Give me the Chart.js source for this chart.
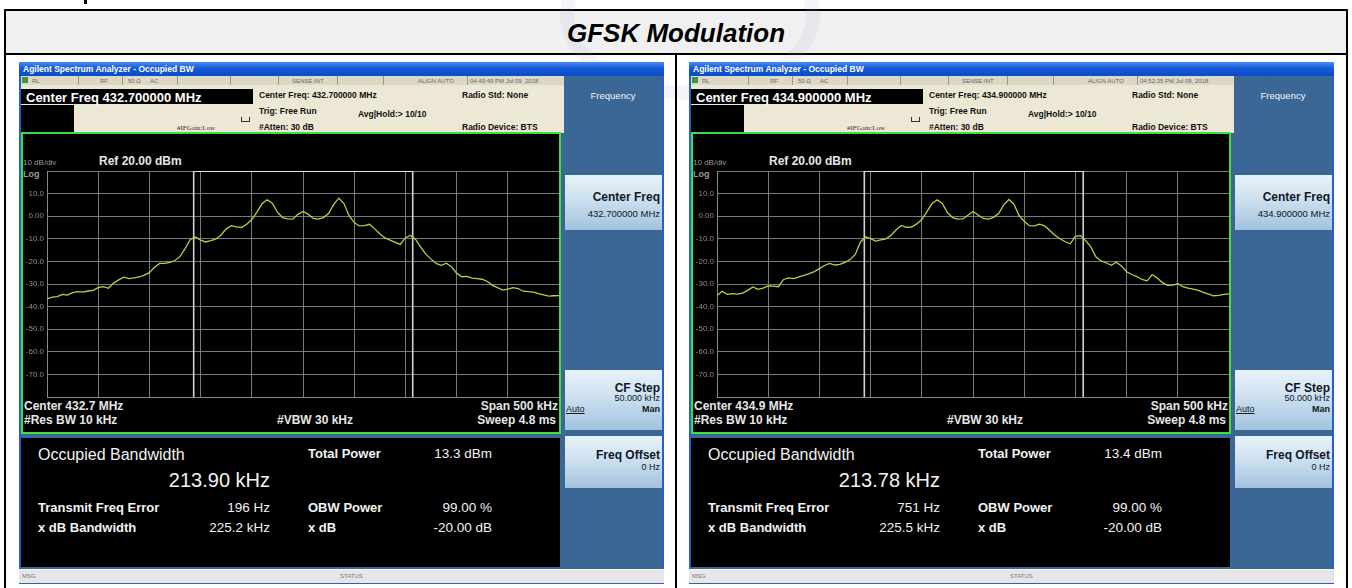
<!DOCTYPE html>
<html><head><meta charset="utf-8">
<script src="https://cdn.jsdelivr.net/npm/chart.js@4.4.1/dist/chart.umd.min.js"></script>
<style>
html,body{margin:0;padding:0;}
body{width:1352px;height:588px;background:#fff;position:relative;overflow:hidden;font-family:"Liberation Sans",Arial,sans-serif;}
.b{position:absolute;box-sizing:border-box;}
.t{position:absolute;white-space:nowrap;line-height:1;}
canvas{position:absolute;}
</style></head><body>
<script>
// ---------- DATA ----------
const freqOffsetKHz = [-250,-245,-240,-235,-230,-225,-220,-215,-210,-205,-200,-195,-190,-185,-180,-175,-170,-165,-160,-155,-150,-145,-140,-135,-130,-125,-120,-115,-110,-105,-100,-95,-90,-85,-80,-75,-70,-65,-60,-55,-50,-45,-40,-35,-30,-25,-20,-15,-10,-5,0,5,10,15,20,25,30,35,40,45,50,55,60,65,70,75,80,85,90,95,100,105,110,115,120,125,130,135,140,145,150,155,160,165,170,175,180,185,190,195,200,205,210,215,220,225,230,235,240,245,250];
const traceLeftDBm = [-36.6,-35.8,-35.6,-34.6,-34.9,-33.8,-33.4,-33.6,-33.1,-32.8,-31.6,-31.2,-31.9,-29.6,-28.2,-27.0,-27.6,-27.3,-26.9,-26.1,-25.0,-22.6,-20.9,-20.9,-20.4,-19.6,-17.8,-14.2,-10.3,-9.2,-10.6,-11.4,-10.8,-10.1,-8.3,-5.6,-4.2,-4.7,-5.0,-3.6,-1.5,1.8,5.5,7.3,5.8,1.8,-0.6,-1.2,-1.3,0.8,2.1,0.9,-1.0,-1.3,-0.6,1.2,5.2,8.0,5.6,0.2,-2.8,-4.3,-4.2,-3.6,-5.6,-7.8,-9.6,-10.6,-11.6,-12.5,-9.5,-8.5,-10.3,-13.8,-16.8,-19.0,-20.9,-21.7,-20.8,-22.4,-25.2,-26.8,-26.6,-27.4,-27.6,-27.9,-28.9,-30.6,-31.6,-32.7,-32.3,-31.6,-32.0,-33.2,-33.4,-33.6,-34.3,-34.8,-35.4,-35.2,-35.1];
const traceRightDBm = [-35.1,-33.2,-34.6,-34.3,-34.5,-34.0,-32.8,-31.3,-32.4,-31.8,-30.8,-30.9,-31.2,-28.0,-27.3,-27.6,-26.9,-26.2,-25.4,-24.5,-23.2,-21.8,-20.9,-21.6,-21.3,-20.4,-19.2,-16.9,-11.5,-9.1,-9.9,-11.0,-10.5,-10.0,-8.4,-6.0,-4.1,-4.9,-4.8,-3.4,-1.5,2.0,5.6,7.3,5.6,1.6,-0.6,-1.3,-1.2,0.4,2.1,0.5,-1.0,-1.3,-0.5,1.2,5.0,7.4,5.3,0.3,-2.2,-4.2,-4.3,-3.5,-4.3,-6.3,-8.4,-10.0,-11.3,-12.2,-8.9,-8.6,-10.8,-13.6,-18.0,-19.8,-20.6,-21.7,-20.4,-22.0,-24.6,-25.8,-26.7,-28.0,-28.6,-25.8,-27.4,-29.4,-30.6,-30.5,-29.9,-31.2,-31.8,-32.3,-32.8,-33.7,-34.5,-35.2,-35.0,-34.6,-34.4];
const yTickValues = [20,10,0,-10,-20,-30,-40,-50,-60,-70,-80];
const yTickLabels = ['','10.0','0.00','-10.0','-20.0','-30.0','-40.0','-50.0','-60.0','-70.0',''];
const obwKHz = [213.90, 213.78];
const freqErrorHz = [196, 751];
const centerMHz = ['432.700000', '434.900000'];
const centerShort = ['432.7', '434.9'];
const totalPower = ['13.3 dBm', '13.4 dBm'];
const xdBBandwidth = ['225.2 kHz', '225.5 kHz'];
const timestamps = ['04:49:49 PM Jul 09, 2018', '04:52:35 PM Jul 09, 2018'];

// ---------- HELPERS ----------
function box(x,y,w,h,bg,extra){const d=document.createElement('div');d.className='b';d.style.cssText=`left:${x}px;top:${y}px;width:${w}px;height:${h}px;background:${bg};${extra||''}`;document.body.appendChild(d);return d;}
function txt(x,y,s,css,al){const d=document.createElement('div');d.className='t';d.textContent=s;const tx=al==='r'?'-100%':al==='c'?'-50%':'0';d.style.cssText=`left:${x}px;top:${y}px;transform:translate(${tx},-50%);${css||''}`;document.body.appendChild(d);return d;}

// ---------- TABLE ----------
box(84,0,3,4,'#000');
box(4,9,1344,46,'#f0f0f0','border:2px solid #000;');
box(560,-70,260,170,'transparent','border:14px solid rgba(170,150,220,0.10);border-radius:50%;');
box(4,53,2,540,'#000');box(1346,53,2,540,'#000');box(675,53,2,540,'#000');
txt(676,33,'GFSK Modulation','font:italic bold 26px "Liberation Sans",Arial;color:#000;','c');

const BTN='linear-gradient(#e8f1f8 0%,#d4e5f2 35%,#b6d0e7 75%,#a2c2df 100%)';
function panel(dx, i, trace){
  const X=v=>v+dx;
  box(X(19),62,645,522,'#2a5fc8');
  box(X(19),62,645,14,'linear-gradient(#4a8cf5,#1459d8 45%,#0b4cc6)');
  txt(X(23),69,'Agilent Spectrum Analyzer - Occupied BW','font:bold 8.5px "Liberation Sans Narrow","Liberation Sans",Arial;color:#fff;');
  box(X(21),76,641,493,'#3a6796');
  // status row
  box(X(21),76,543,9,'#dcd8c6');
  [78,122,177,230,278,337,383,467].forEach(s=>box(X(s),76,1,9,'#9a9888'));
  box(X(22),77,6,6,'#3c9a3c');
  const sc='font:6px "Liberation Sans",Arial;color:#666;';
  txt(X(32),80.5,'RL',sc);txt(X(100),80.5,'RF',sc);txt(X(128),80.5,'50 Ω',sc);txt(X(150),80.5,'AC',sc);
  txt(X(292),80.5,'SENSE:INT',sc);txt(X(418),80.5,'ALIGN AUTO',sc);txt(X(470),80.5,timestamps[i],sc);
  // info area
  box(X(21),85,543,48,'#ece8d5');
  box(X(21),89,232,15,'#000');
  txt(X(26),97,'Center Freq  '+centerMHz[i]+' MHz','font:bold 13px "Liberation Sans",Arial;color:#fff;');
  box(X(21),105,53,27,'#000');
  const ic='font:bold 8.5px "Liberation Sans",Arial;color:#111;';
  txt(X(259),95,'Center Freq: '+centerMHz[i]+' MHz',ic);
  txt(X(259),111,'Trig: Free Run',ic);
  txt(X(358),114,'Avg|Hold:> 10/10',ic);
  txt(X(259),127,'#Atten: 30 dB',ic);
  txt(X(462),95,'Radio Std: None',ic);
  txt(X(462),127,'Radio Device: BTS',ic);
  txt(X(177),128,'#IFGain:Low','font:7px "Liberation Serif",serif;color:#333;');
  box(X(241),117,9,5,'transparent','border:1px solid #333;border-top:none;');
  // graph frame
  box(X(21),132,540,302,'#000','border:2px solid #3ee03e;');
  const gc='color:#e6e6e6;font:bold 12px "Liberation Sans",Arial;';
  txt(X(23),162,'10 dB/div','font:8px "Liberation Sans",Arial;color:#9a9a9a;');
  txt(X(99),161,'Ref 20.00 dBm',gc);
  txt(X(23),174,'Log','font:bold 9px "Liberation Sans",Arial;color:#9a9a9a;');
  txt(X(24),406,'Center  '+centerShort[i]+' MHz',gc);
  txt(X(558),406,'Span 500 kHz',gc,'r');
  txt(X(24),419.5,'#Res BW  10 kHz',gc);
  txt(X(277),419.5,'#VBW  30 kHz',gc);
  txt(X(556),419.5,'Sweep  4.8 ms',gc,'r');
  // chart canvas
  const cv=document.createElement('canvas');
  cv.width=536;cv.height=298;cv.style.left=X(23)+'px';cv.style.top='134px';
  document.body.appendChild(cv);
  const half=obwKHz[i]/2, off=freqErrorHz[i]/1000;
  new Chart(cv,{type:'line',
    data:{datasets:[
      {data:freqOffsetKHz.map((f,k)=>({x:f,y:trace[k]})),borderColor:'#c8c843',borderWidth:1.3,pointRadius:0,tension:0},
      {data:[{x:off-half,y:20},{x:off-half,y:-80}],borderColor:'#d2d2d2',borderWidth:1.6,pointRadius:0},
      {data:[{x:off+half,y:20},{x:off+half,y:-80}],borderColor:'#d2d2d2',borderWidth:1.6,pointRadius:0},
      {data:[{x:off-half,y:20},{x:off+half,y:20}],borderColor:'#e4e4e4',borderWidth:2,pointRadius:0}
    ]},
    options:{animation:false,responsive:false,maintainAspectRatio:false,
      plugins:{legend:{display:false},tooltip:{enabled:false}},
      layout:{padding:{left:0,right:0,top:37,bottom:35}},
      scales:{
        x:{type:'linear',min:-250,max:250,ticks:{display:false,stepSize:50},grid:{color:'#7a7a7a',lineWidth:1,drawTicks:false},border:{color:'#888'},afterFit:s=>{s.height=0;}},
        y:{type:'linear',min:-80,max:20,afterBuildTicks:s=>{s.ticks=yTickValues.map(v=>({value:v}));},
           ticks:{color:'#8e8e8e',font:{size:8,family:'"Liberation Sans",Arial'},padding:3,
             callback:v=>yTickLabels[yTickValues.indexOf(v)]},
           grid:{color:'#7a7a7a',lineWidth:1,drawTicks:false},border:{color:'#888'},afterFit:s=>{s.width=24;}}
      }}});
  // results
  box(X(21),438,539,129,'#000');
  const rl='font:bold 13px "Liberation Sans",Arial;color:#f2f2f2;';
  const rv='font:13.5px "Liberation Sans",Arial;color:#f2f2f2;';
  txt(X(38),455,'Occupied Bandwidth','font:16px "Liberation Sans",Arial;color:#f2f2f2;');
  txt(X(270),480,obwKHz[i].toFixed(2)+' kHz','font:20px "Liberation Sans",Arial;color:#f2f2f2;','r');
  txt(X(308),453,'Total Power',rl);
  txt(X(492),453,totalPower[i],rv,'r');
  txt(X(38),507,'Transmit Freq Error',rl);
  txt(X(270),507,freqErrorHz[i]+' Hz',rv,'r');
  txt(X(308),507,'OBW Power',rl);
  txt(X(492),507,'99.00 %',rv,'r');
  txt(X(38),527,'x dB Bandwidth',rl);
  txt(X(270),527,xdBBandwidth[i],rv,'r');
  txt(X(308),527,'x dB',rl);
  txt(X(492),527,'-20.00 dB',rv,'r');
  // msg bar
  box(X(19),569,645,14,'#e6e6e6','border-top:1px solid #fafafa;');
  txt(X(22),576,'MSG','font:6px "Liberation Sans",Arial;color:#777;');
  txt(X(340),576,'STATUS','font:6px "Liberation Sans",Arial;color:#777;');
  // softkeys
  txt(X(613),95,'Frequency','font:9.5px "Liberation Sans",Arial;color:#f4f6fa;','c');
  box(X(565),175,97,55,BTN);
  txt(X(660),197,'Center Freq','font:bold 12px "Liberation Sans",Arial;color:#101828;','r');
  txt(X(660),213,centerMHz[i]+' MHz','font:9.5px "Liberation Sans",Arial;color:#101828;','r');
  box(X(565),370,97,60,BTN);
  txt(X(660),388,'CF Step','font:bold 12px "Liberation Sans",Arial;color:#101828;','r');
  txt(X(660),398,'50.000 kHz','font:9px "Liberation Sans",Arial;color:#101828;','r');
  txt(X(660),409,'Man','font:bold 9px "Liberation Sans",Arial;color:#101828;','r');
  txt(X(566),409,'Auto','font:9px "Liberation Sans",Arial;color:#101828;text-decoration:underline;');
  box(X(565),436,97,52,BTN);
  txt(X(660),455,'Freq Offset','font:bold 12px "Liberation Sans",Arial;color:#101828;','r');
  txt(X(660),467,'0 Hz','font:9px "Liberation Sans",Arial;color:#101828;','r');
}
panel(0,0,traceLeftDBm);
panel(670,1,traceRightDBm);
</script>
</body></html>
